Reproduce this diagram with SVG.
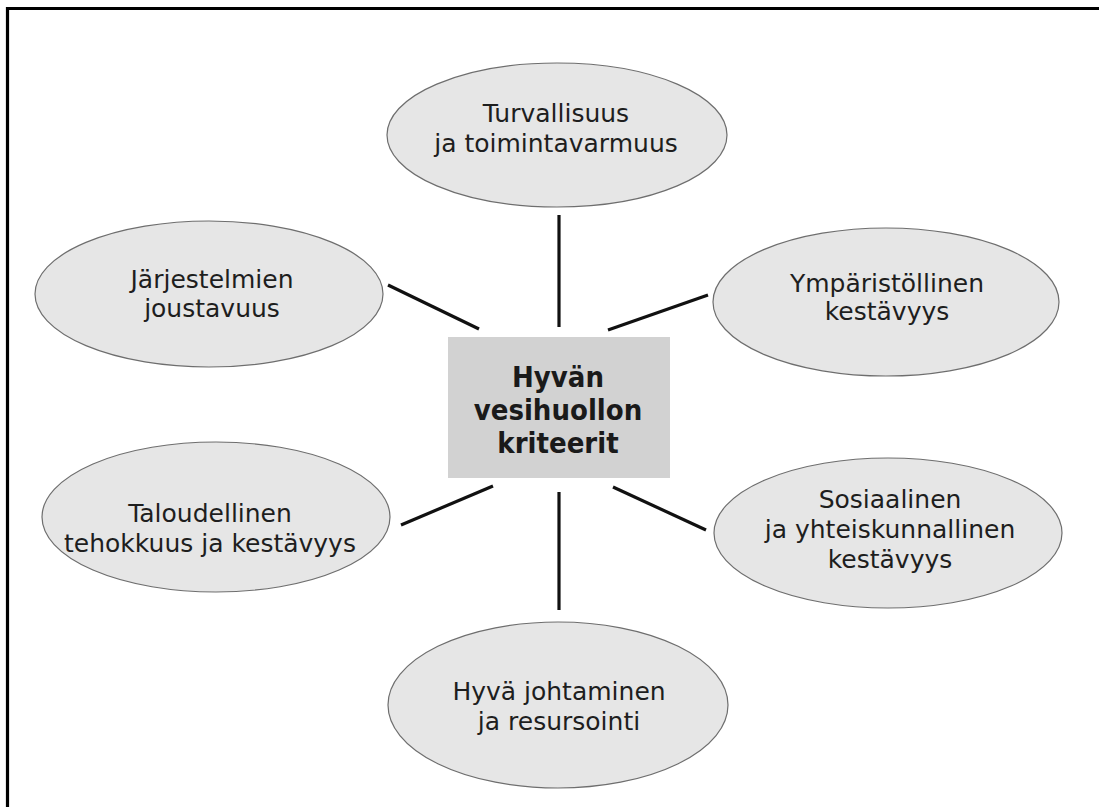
<svg xmlns="http://www.w3.org/2000/svg" width="1099" height="807" viewBox="0 0 1099 807">
<style>
.node ellipse{fill:#e6e6e6;stroke:#6e6e6e;stroke-width:1.2}
.lbl{font-family:"DejaVu Sans",sans-serif;font-size:25px;fill:#1e1e1e;text-anchor:middle}
.title{font-family:"DejaVu Sans Condensed","DejaVu Sans",sans-serif;font-weight:bold;font-size:29px;fill:#1a1a1a;text-anchor:middle}
.conn line{stroke:#111;stroke-width:3.2;stroke-linecap:butt}
</style>
<rect x="0" y="0" width="1099" height="807" fill="#ffffff"/>
<path d="M7.5 807 V8.5 H1099" fill="none" stroke="#000" stroke-width="3.2"/>
<g id="connectors" class="conn">
<line x1="559" y1="215" x2="559" y2="327"/>
<line x1="388" y1="285" x2="479" y2="329"/>
<line x1="608" y1="330" x2="708" y2="295"/>
<line x1="401" y1="525" x2="493" y2="486"/>
<line x1="613" y1="487" x2="706" y2="530"/>
<line x1="559" y1="492" x2="559" y2="610"/>
</g>
<g id="center">
<rect x="448" y="337" width="222" height="141" fill="#d2d2d2"/>
<text class="title" x="558" y="387">Hyvän</text>
<text class="title" x="558" y="420">vesihuollon</text>
<text class="title" x="558" y="453">kriteerit</text>
</g>
<g id="n-turvallisuus" class="node">
<ellipse cx="557" cy="135" rx="170" ry="72"/>
<text class="lbl" x="556" y="122">Turvallisuus</text>
<text class="lbl" x="556" y="152">ja toimintavarmuus</text>
</g>
<g id="n-jarjestelmien" class="node">
<ellipse cx="209" cy="294" rx="174" ry="73"/>
<text class="lbl" x="212" y="288">Järjestelmien</text>
<text class="lbl" x="212" y="317">joustavuus</text>
</g>
<g id="n-ymparistollinen" class="node">
<ellipse cx="886" cy="302" rx="173" ry="74"/>
<text class="lbl" x="887" y="292">Ympäristöllinen</text>
<text class="lbl" x="887" y="320">kestävyys</text>
</g>
<g id="n-taloudellinen" class="node">
<ellipse cx="216" cy="517" rx="174" ry="75"/>
<text class="lbl" x="210" y="522">Taloudellinen</text>
<text class="lbl" x="210" y="552">tehokkuus ja kestävyys</text>
</g>
<g id="n-sosiaalinen" class="node">
<ellipse cx="888" cy="533" rx="174" ry="75"/>
<text class="lbl" x="890" y="508">Sosiaalinen</text>
<text class="lbl" x="890" y="538">ja yhteiskunnallinen</text>
<text class="lbl" x="890" y="568">kestävyys</text>
</g>
<g id="n-johtaminen" class="node">
<ellipse cx="558" cy="705" rx="170" ry="83"/>
<text class="lbl" x="559" y="700">Hyvä johtaminen</text>
<text class="lbl" x="559" y="730">ja resursointi</text>
</g>
</svg>
